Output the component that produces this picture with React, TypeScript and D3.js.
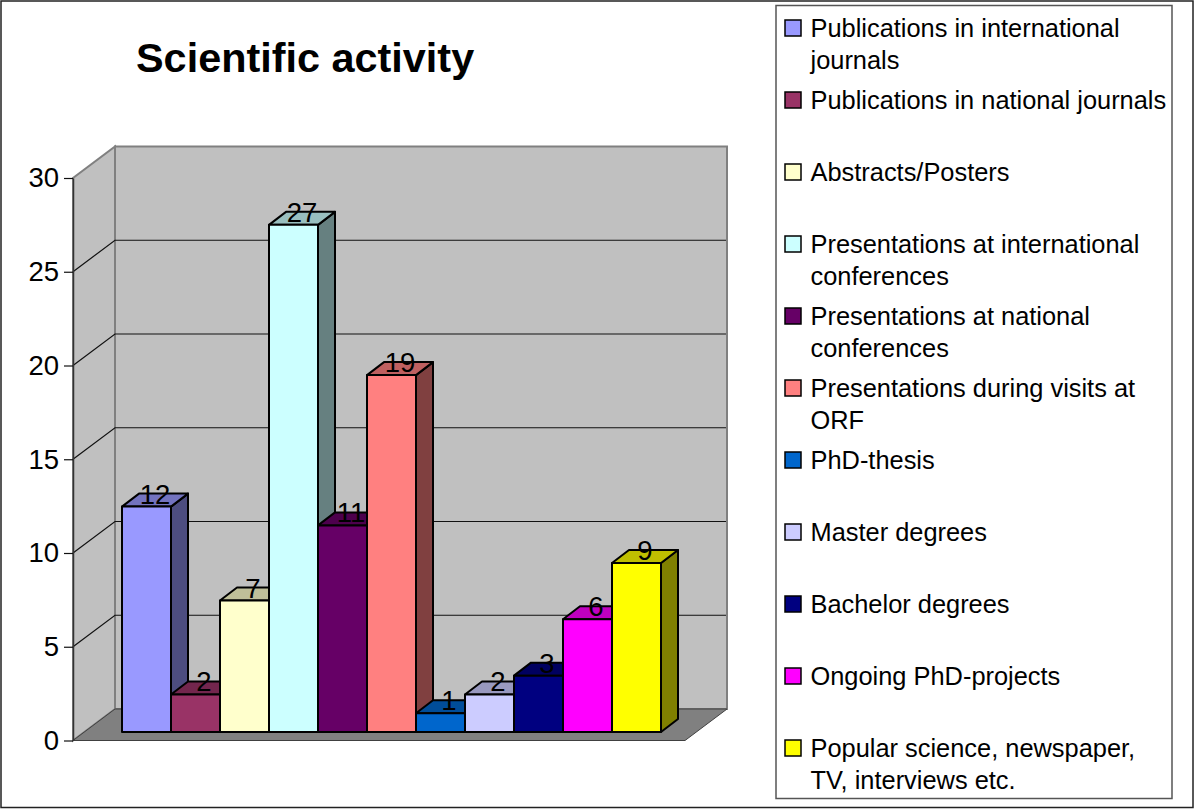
import { useEffect, useRef } from 'react'
import * as d3 from 'd3'

const categories = [
  'Publications in international journals',
  'Publications in national journals',
  'Abstracts/Posters',
  'Presentations at international conferences',
  'Presentations at national conferences',
  'Presentations during visits at ORF',
  'PhD-thesis',
  'Master degrees',
  'Bachelor degrees',
  'Ongoing PhD-projects',
  'Popular science, newspaper, TV, interviews etc.',
]
const values = [12, 2, 7, 27, 11, 19, 1, 2, 3, 6, 9]
const colors = ['#9999ff', '#993366', '#ffffcc', '#ccffff', '#660066', '#ff8080', '#0066cc', '#ccccff', '#000080', '#ff00ff', '#ffff00']
const legendLines = [
  ['Publications in international', 'journals'],
  ['Publications in national journals'],
  ['Abstracts/Posters'],
  ['Presentations at international', 'conferences'],
  ['Presentations at national', 'conferences'],
  ['Presentations during visits at', 'ORF'],
  ['PhD-thesis'],
  ['Master degrees'],
  ['Bachelor degrees'],
  ['Ongoing PhD-projects'],
  ['Popular science, newspaper,', 'TV, interviews etc.'],
]
const yTicks = [0, 5, 10, 15, 20, 25, 30]

const width = 1194
const height = 809
const font = '"Liberation Sans", Arial, sans-serif'

function shade(color: string, k: number) {
  const c = d3.rgb(color)
  return d3.rgb(c.r * k, c.g * k, c.b * k).formatHex()
}

export default function App() {
  const svgRef = useRef<SVGSVGElement>(null)

  useEffect(() => {
    if (!svgRef.current) return
    const svg = d3.select(svgRef.current)
    svg.selectAll('*').remove()

    svg.append('rect')
      .attr('x', 1).attr('y', 1)
      .attr('width', 1192).attr('height', 806.5)
      .attr('fill', '#fff').attr('stroke', '#222').attr('stroke-width', 1.5)

    svg.append('text')
      .attr('x', 136).attr('y', 72)
      .style('font-family', font).style('font-size', '41.4px').style('font-weight', 'bold')
      .text('Scientific activity')

    // Frame of the 3D box
    const axisX = 73
    const floorRight = 685
    const depthX = 42
    const depthY = -31.5

    const y = d3.scaleLinear().domain([0, 30]).range([740.5, 178])
    const barY = d3.scaleLinear().domain([0, 30]).range([732, 168.5])
    const x = d3.scaleBand<string>()
      .domain(categories)
      .range([122, 661])
      .padding(0)

    const g = svg.append('g')

    // Side wall
    g.append('path')
      .attr('d', `M${axisX},${y(0)}L${axisX},${y(30)}L${axisX + depthX},${y(30) + depthY}L${axisX + depthX},${y(0) + depthY}Z`)
      .attr('fill', '#c0c0c0')
      .attr('stroke', '#808080')
      .attr('stroke-width', 2)

    // Back wall
    g.append('rect')
      .attr('x', axisX + depthX)
      .attr('y', y(30) + depthY)
      .attr('width', floorRight - axisX)
      .attr('height', y(0) - y(30))
      .attr('fill', '#c0c0c0')
      .attr('stroke', '#808080')
      .attr('stroke-width', 2)

    // Floor
    g.append('path')
      .attr('d', `M${axisX},${y(0)}L${floorRight},${y(0)}L${floorRight + depthX},${y(0) + depthY}L${axisX + depthX},${y(0) + depthY}Z`)
      .attr('fill', '#808080')
      .attr('stroke', '#404040')
      .attr('stroke-width', 1)

    // Gridlines on both walls
    yTicks.filter(t => t > 0 && t < 30).forEach(t => {
      g.append('path')
        .attr('d', `M${axisX},${y(t)}L${axisX + depthX},${y(t) + depthY}L${floorRight + depthX - 1},${y(t) + depthY}`)
        .attr('fill', 'none')
        .attr('stroke', '#111')
        .attr('stroke-width', 1.2)
    })

    // Y axis
    const axis = g.append('g')
      .attr('transform', `translate(${axisX},0)`)
      .call(d3.axisLeft(y).tickValues(yTicks).tickSize(9).tickSizeOuter(0).tickPadding(5))
    axis.selectAll('path').attr('stroke', '#333').attr('stroke-width', 1.5)
    axis.selectAll('line').attr('stroke', '#111').attr('stroke-width', 1.2)
    axis.selectAll('text')
      .attr('fill', '#000')
      .style('font-family', font)
      .style('font-size', '27.5px')

    // Bars
    const barDepthX = 17
    const barDepthY = -13
    const bw = x.bandwidth()
    const base = barY(0)

    categories.forEach((c, i) => {
      const x0 = x(c) || 0
      const top = barY(values[i])
      const bar = g.append('g')
        .attr('stroke', '#000')
        .attr('stroke-width', 2)
        .attr('stroke-linejoin', 'round')

      bar.append('path')
        .attr('d', `M${x0 + bw},${base}L${x0 + bw + barDepthX},${base + barDepthY}L${x0 + bw + barDepthX},${top + barDepthY}L${x0 + bw},${top}Z`)
        .attr('fill', shade(colors[i], 0.5))

      bar.append('path')
        .attr('d', `M${x0},${top}L${x0 + barDepthX},${top + barDepthY}L${x0 + bw + barDepthX},${top + barDepthY}L${x0 + bw},${top}Z`)
        .attr('fill', shade(colors[i], 0.75))

      bar.append('rect')
        .attr('x', x0).attr('y', top)
        .attr('width', bw).attr('height', base - top)
        .attr('fill', colors[i])
    })

    // Value labels
    categories.forEach((c, i) => {
      g.append('text')
        .attr('x', (x(c) || 0) + bw / 2 + barDepthX / 2)
        .attr('y', barY(values[i]) - 3)
        .attr('text-anchor', 'middle')
        .style('font-family', font)
        .style('font-size', '27.5px')
        .text(values[i])
    })

    // Legend
    svg.append('rect')
      .attr('x', 776).attr('y', 5.5)
      .attr('width', 396).attr('height', 793)
      .attr('fill', '#fff').attr('stroke', '#555').attr('stroke-width', 1.5)

    const legendY = d3.scalePoint<string>()
      .domain(categories)
      .range([28, 748])

    categories.forEach((c, i) => {
      const cy = legendY(c) || 0
      svg.append('rect')
        .attr('x', 785).attr('y', cy - 8)
        .attr('width', 16).attr('height', 16)
        .attr('fill', colors[i])
        .attr('stroke', '#000').attr('stroke-width', 1.5)
      legendLines[i].forEach((line, j) => {
        svg.append('text')
          .attr('x', 810.5)
          .attr('y', cy + 9 + j * 32)
          .style('font-family', font)
          .style('font-size', '25.4px')
          .text(line)
      })
    })
  }, [])

  return (
    <svg
      ref={svgRef}
      width={width}
      height={height}
      style={{ position: 'absolute', left: 0, top: 0 }}
    />
  )
}
